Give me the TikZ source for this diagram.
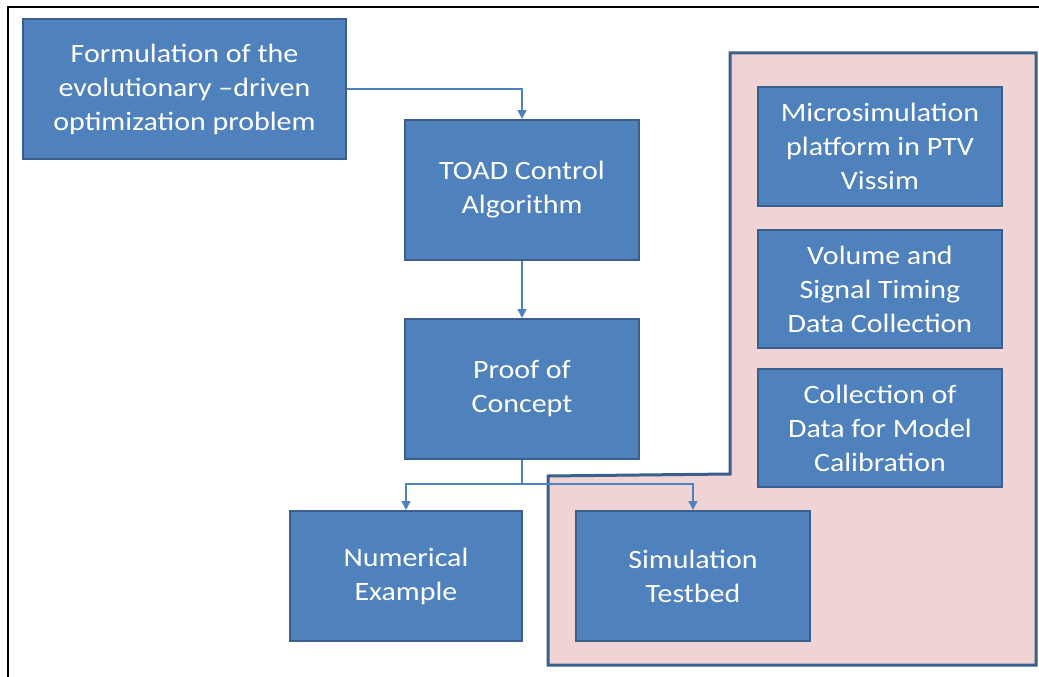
\documentclass[tikz,border=0pt]{standalone}
\usepackage{fontspec}
\setmainfont{Carlito}[FakeStretch=1.13]
\usetikzlibrary{arrows.meta}
\definecolor{boxblue}{HTML}{4F81BD}
\definecolor{boxedge}{HTML}{3A5F8C}
\definecolor{pinkfill}{HTML}{F0D3D4}
\definecolor{linkblue}{HTML}{4F81BD}
\begin{document}
\begin{tikzpicture}[x=1pt,y=-1pt,
 blk/.style={draw=boxedge, line width=2pt, fill=boxblue, text=white, align=center,
   font=\fontsize{26.5}{34}\selectfont, inner sep=0pt},
 link/.style={draw=linkblue, line width=1.5pt, -{Triangle[length=9pt,width=9pt]}},
 plain/.style={draw=linkblue, line width=1.5pt}]
\useasboundingbox (0,0) rectangle (1039,677);
\draw[line width=2.5pt] (8,700) -- (8,7) -- (1060,7);
\filldraw[fill=pinkfill, draw=boxedge, line width=3pt]
  (730,53) -- (1036,53) -- (1036,665) -- (548,665) -- (548,476) -- (730,474) -- cycle;

\node[blk, minimum width=323pt, minimum height=140pt] (form) at (184.5,89)
  {Formulation of the\\evolutionary --driven\\optimization problem};
\node[blk, minimum width=234pt, minimum height=140pt] (toad) at (522,190)
  {TOAD Control\\Algorithm};
\node[blk, minimum width=234pt, minimum height=140pt] (proof) at (522,389)
  {Proof of\\Concept};
\node[blk, minimum width=232pt, minimum height=130pt] (num) at (406,576)
  {Numerical\\Example};
\node[blk, minimum width=234pt, minimum height=130pt] (sim) at (693,576)
  {Simulation\\Testbed};
\node[blk, minimum width=244pt, minimum height=119pt] (micro) at (880,146.5)
  {Microsimulation\\platform in PTV\\Vissim};
\node[blk, minimum width=244pt, minimum height=118pt] (vol) at (880,289)
  {Volume and\\Signal Timing\\Data Collection};
\node[blk, minimum width=244pt, minimum height=118pt] (coll) at (880,428)
  {Collection of\\Data for Model\\Calibration};

\draw[link] (form.east) -| (toad.north);
\draw[link] (toad.south) -- (proof.north);
\coordinate (split) at (522,484);
\draw[plain] (proof.south) -- (split);
\draw[link] (split) -| (num.north);
\draw[link] (split) -| (sim.north);
\end{tikzpicture}
\end{document}
